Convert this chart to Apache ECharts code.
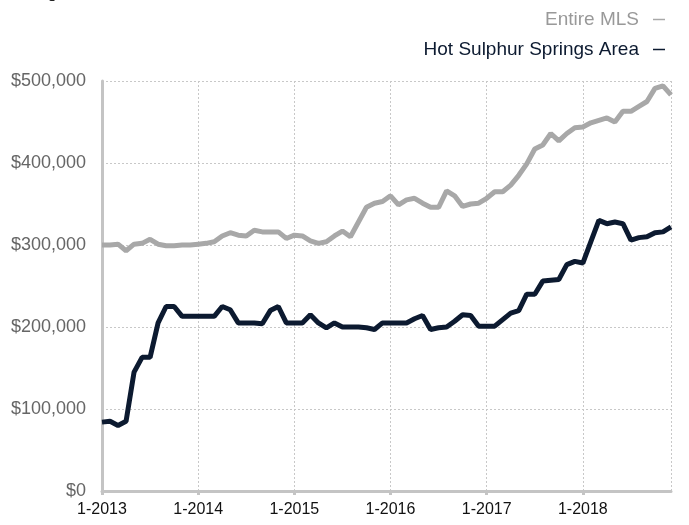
<!DOCTYPE html>
<html><head><meta charset="utf-8">
<script src="https://cdn.jsdelivr.net/npm/echarts@6/dist/echarts.min.js"></script>
<style>html,body{margin:0;padding:0;background:#fff}#c{width:689px;height:525px}</style>
</head><body><div id="c"></div>
<script>
const years = [2013, 2014, 2015, 2016, 2017, 2018];
const categories = [];
years.forEach(y => { for (let m = 1; m <= 12; m++) categories.push(m + '-' + y); });

const entireMLS = [
  300000,300000,301000,293000,301000,302000,307000,301000,299000,299000,300000,300000,
  301000,302000,304000,311000,315000,312000,311000,318000,316000,316000,316000,308000,
  312000,311000,305000,302000,304000,311000,317000,310000,328000,346000,351000,353000,
  360000,349000,355000,357000,351000,346000,346000,366000,360000,347000,350000,351000,
  357000,365000,365000,373000,385000,399000,417000,422000,436000,427000,436000,443000,
  444000,449000,452000,455000,450000,463000,463000,469000,475000,491000,494000,483000
];
const hotSulphur = [
  84000,85000,80000,85000,145000,163000,163000,205000,225000,225000,213000,213000,
  213000,213000,213000,225000,221000,205000,205000,205000,204000,220000,225000,205000,
  205000,205000,215000,205000,199000,205000,200000,200000,200000,199000,197000,205000,
  205000,205000,205000,210000,214000,197000,199000,200000,207000,215000,214000,201000,
  201000,201000,209000,217000,220000,240000,240000,256000,257000,258000,276000,280000,
  278000,304000,330000,326000,328000,326000,306000,309000,310000,315000,316000,322000
];
const seriesNames = ['Entire MLS', 'Hot Sulphur Springs Area'];
const yTicks = [0, 100000, 200000, 300000, 400000, 500000];

const chart = echarts.init(document.getElementById('c'), null, {renderer: 'canvas'});
const font = '"Liberation Sans", Arial, sans-serif';
chart.setOption({
  animation: false,
  title: {
    text: 'Rolling 12-Month Calculation', left: 0, top: -20,
    textStyle: {fontFamily: font, fontSize: 17, fontWeight: 'normal', color: '#222'}
  },
  legend: {
    orient: 'vertical', right: 19, top: 5, align: 'right', itemGap: 11,
    itemWidth: 12, itemHeight: 1.5, icon: 'rect',
    textStyle: {fontFamily: font, fontSize: 19, padding: [0, 9, 0, 0]},
    data: [
      {name: seriesNames[0], textStyle: {color: '#999999'}},
      {name: seriesNames[1], textStyle: {color: '#0c1a30'}}
    ],
    selectedMode: false
  },
  grid: {left: 102, right: 18, top: 81, bottom: 34},
  xAxis: {
    type: 'category', data: categories, boundaryGap: false,
    axisLine: {lineStyle: {color: '#c4c4c4', width: 3}},
    axisTick: {interval: 11, length: 4, lineStyle: {color: '#c4c4c4', width: 3}},
    axisLabel: {interval: 11, color: '#111', fontFamily: font, fontSize: 16, margin: 11},
    splitLine: {show: true, interval: (i) => i % 12 === 0 || i === categories.length - 1,
      lineStyle: {color: '#c8c8c8', type: [2, 2], width: 1}}
  },
  yAxis: {
    type: 'value', min: yTicks[0], max: yTicks[yTicks.length - 1], interval: 100000,
    axisLine: {show: true, lineStyle: {color: '#c4c4c4', width: 3}},
    axisTick: {show: false},
    axisLabel: {color: '#666', fontFamily: font, fontSize: 18, margin: 16,
      formatter: v => '$' + v.toLocaleString('en-US')},
    splitLine: {lineStyle: {color: '#c8c8c8', type: [2, 2], width: 1}}
  },
  series: [
    {name: seriesNames[0], type: 'line', data: entireMLS, symbol: 'none',
      lineStyle: {color: '#a8a8a8', width: 5}, itemStyle: {color: '#a8a8a8'}},
    {name: seriesNames[1], type: 'line', data: hotSulphur, symbol: 'none',
      lineStyle: {color: '#0c1a30', width: 5}, itemStyle: {color: '#0c1a30'}}
  ]
});
</script></body></html>
